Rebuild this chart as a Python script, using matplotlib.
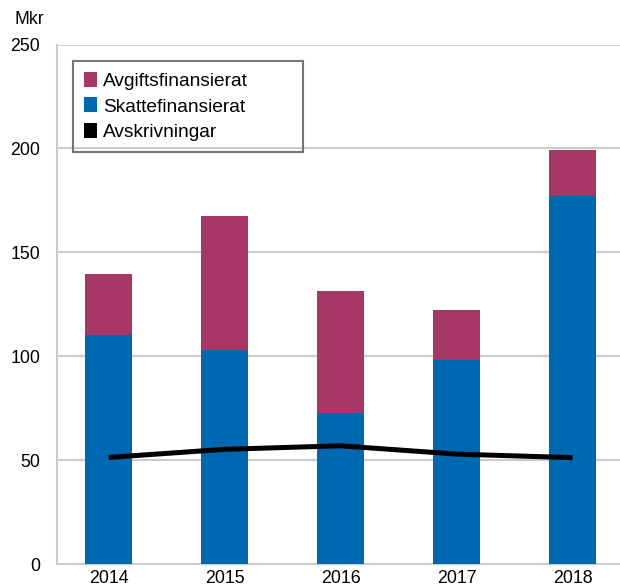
import matplotlib.pyplot as plt
from matplotlib.patches import Patch
import numpy as np

plt.rcParams['font.family'] = ['Liberation Sans', 'DejaVu Sans']

# Mkr per year
years = ['2014', '2015', '2016', '2017', '2018']
skattefinansierat = [110.3, 103.1, 72.9, 98.4, 177.3]
avgiftsfinansierat = [29.3, 64.4, 58.6, 23.9, 22.0]
avskrivningar = [51.4, 55.3, 57.0, 53.0, 51.3]

blue = '#0067B1'
plum = '#A73764'
grid_col = '#CCCCCC'

fig = plt.figure(figsize=(6.2, 5.87), dpi=100)
ax = fig.add_axes([57 / 620, 22.7 / 587, 1 - 57 / 620, 519.8 / 587])

x = np.arange(len(years))
ax.bar(x, skattefinansierat, width=0.41, color=blue, zorder=3)
ax.bar(x, avgiftsfinansierat, width=0.41, bottom=skattefinansierat, color=plum, zorder=3)
ax.plot(x, avskrivningar, color='black', linewidth=3.6, zorder=4, solid_capstyle='butt')

ax.set_xlim(-0.446, 4.41)
ax.set_ylim(0, 250)
ax.set_yticks([0, 50, 100, 150, 200, 250])
ax.set_xticks(x)
ax.set_xticklabels(years)
ax.yaxis.grid(True, color=grid_col, linewidth=1.5, zorder=0)
ax.tick_params(axis='both', length=0, labelsize=12.8, colors='black')
ax.tick_params(axis='y', pad=12)
ax.tick_params(axis='x', pad=4)

for side in ['top', 'right']:
    ax.spines[side].set_visible(False)
for side in ['left', 'bottom']:
    ax.spines[side].set_color(grid_col)
    ax.spines[side].set_linewidth(1.5)

fig.text(14 / 620, 1 - 20 / 587, 'Mkr', fontsize=12.8, va='center', ha='left')

handles = [Patch(facecolor=plum, edgecolor='none'),
           Patch(facecolor=blue, edgecolor='none'),
           Patch(facecolor='black', edgecolor='none')]
labels = ['Avgiftsfinansierat', 'Skattefinansierat', 'Avskrivningar']
leg = ax.legend(handles, labels, loc='upper left', mode='expand',
                bbox_to_anchor=(0.0284, 0.793, 0.4085, 0.175),
                borderaxespad=0, fontsize=13.8, frameon=True, fancybox=False,
                handlelength=0.72, handleheight=0.82, handletextpad=0.3,
                labelspacing=0.4, borderpad=0.55)
leg.get_frame().set_edgecolor('#555555')
leg.get_frame().set_linewidth(1.5)
leg.get_frame().set_facecolor('none')

fig.savefig('out.png', dpi=100)
